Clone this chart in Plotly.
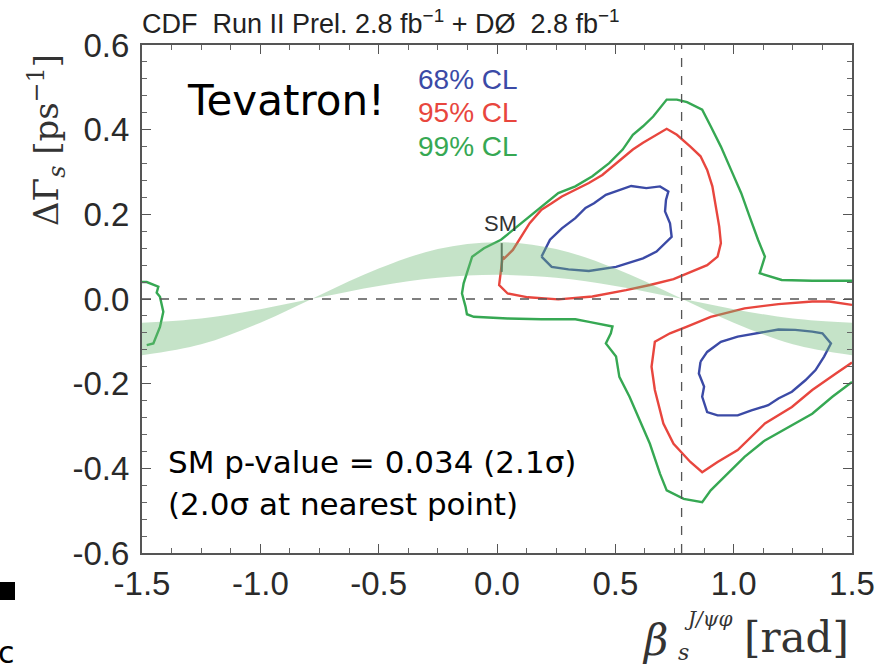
import plotly.graph_objects as go

# ---------------- data ----------------
band_x = [-1.5, -1.25, -1.0, -0.75, -0.5, -0.25, 0.0, 0.25, 0.5, 0.75, 1.0, 1.25, 1.5]
band_a = [-0.133, -0.107, -0.056, 0.009, 0.072, 0.118, 0.134, 0.118, 0.072, 0.009, -0.056, -0.107, -0.133]
band_b = [-0.056, -0.046, -0.024, 0.004, 0.031, 0.050, 0.057, 0.050, 0.031, 0.004, -0.024, -0.046, -0.056]

blue_up_x = [0.188, 0.231, 0.302, 0.388, 0.503, 0.617, 0.674, 0.738, 0.731, 0.710, 0.714, 0.724, 0.689, 0.631,
             0.567, 0.517, 0.460, 0.410, 0.374, 0.331, 0.274, 0.224, 0.188]
blue_up_y = [0.100, 0.076, 0.070, 0.066, 0.076, 0.096, 0.112, 0.147, 0.179, 0.207, 0.234, 0.254, 0.266, 0.262,
             0.267, 0.258, 0.246, 0.226, 0.215, 0.191, 0.167, 0.140, 0.100]

blue_lo_x = [0.860, 0.853, 0.875, 0.867, 0.888, 0.932, 1.017, 1.075, 1.146, 1.189, 1.246, 1.303, 1.346, 1.382,
             1.411, 1.375, 1.332, 1.260, 1.189, 1.103, 1.017, 0.946, 0.888, 0.860]
blue_lo_y = [-0.148, -0.176, -0.207, -0.231, -0.267, -0.275, -0.275, -0.263, -0.251, -0.235, -0.219, -0.192,
             -0.168, -0.136, -0.105, -0.081, -0.077, -0.073, -0.072, -0.081, -0.089, -0.101, -0.125, -0.148]

red_up_x = [0.024, 0.009, 0.045, 0.131, 0.259, 0.403, 0.545, 0.646, 0.746, 0.803, 0.888, 0.932, 0.946, 0.939,
            0.924, 0.910, 0.888, 0.860, 0.817, 0.760, 0.717, 0.674, 0.617, 0.574, 0.531, 0.488, 0.445, 0.388,
            0.331, 0.274, 0.231, 0.188, 0.138, 0.102, 0.067, 0.031, 0.024]
red_up_y = [0.100, 0.033, 0.013, 0.004, -0.001, 0.006, 0.021, 0.033, 0.047, 0.061, 0.080, 0.100, 0.132, 0.171,
            0.218, 0.266, 0.305, 0.337, 0.360, 0.388, 0.402, 0.388, 0.369, 0.353, 0.333, 0.313, 0.293, 0.274,
            0.258, 0.242, 0.226, 0.211, 0.179, 0.147, 0.116, 0.096, 0.100]

red_lo_x = [1.5, 1.404, 1.332, 1.189, 1.046, 0.903, 0.803, 0.731, 0.667, 0.653, 0.667, 0.703, 0.746, 0.817,
            0.867, 0.932, 1.017, 1.132, 1.246, 1.332, 1.432, 1.5]
red_lo_y = [-0.014, -0.006, -0.006, -0.012, -0.022, -0.042, -0.065, -0.081, -0.101, -0.160, -0.215, -0.294,
            -0.342, -0.385, -0.409, -0.385, -0.357, -0.294, -0.255, -0.215, -0.176, -0.150]

green_x = [1.5, 1.332, 1.203, 1.110, 1.132, 1.103, 1.067, 1.032, 0.989, 0.946, 0.903, 0.867, 0.803, 0.760,
           0.717, 0.660, 0.617, 0.574, 0.531, 0.474, 0.403, 0.331, 0.259, 0.188, 0.102, 0.017, -0.055, -0.105,
           -0.141, -0.148, -0.133, -0.127, -0.098, 0.045, 0.188, 0.331, 0.389, 0.488, 0.481, 0.460, 0.503,
           0.517, 0.560, 0.603, 0.646, 0.689, 0.717, 0.789, 0.867, 0.903, 0.960, 1.046, 1.132, 1.232, 1.332,
           1.417, 1.5]
green_y = [0.043, 0.043, 0.045, 0.061, 0.100, 0.140, 0.195, 0.250, 0.305, 0.360, 0.408, 0.447, 0.465, 0.471,
           0.471, 0.431, 0.408, 0.388, 0.353, 0.321, 0.290, 0.266, 0.250, 0.218, 0.179, 0.140, 0.120, 0.100,
           0.037, 0.013, -0.018, -0.036, -0.042, -0.046, -0.048, -0.048, -0.054, -0.065, -0.081, -0.105,
           -0.136, -0.184, -0.231, -0.286, -0.342, -0.413, -0.452, -0.472, -0.480, -0.452, -0.421, -0.373,
           -0.334, -0.302, -0.271, -0.231, -0.196]

green_edge_x = [-1.5, -1.480, -1.431, -1.438, -1.424, -1.410, -1.424, -1.452, -1.480]
green_edge_y = [0.040, 0.040, 0.029, 0.015, 0.005, -0.030, -0.066, -0.105, -0.109]

sm_x = [0.02, 0.02]
sm_y = [0.064, 0.132]

phi_line_x = 0.78
x_ticks = [-1.5, -1.0, -0.5, 0.0, 0.5, 1.0, 1.5]
y_ticks = [-0.6, -0.4, -0.2, 0.0, 0.2, 0.4, 0.6]
legend_labels = ["68% CL", "95% CL", "99% CL"]

# ---------------- styling ----------------
BLUE = "#3b4aa6"
RED = "#e8463e"
GREEN = "#36a853"
W, H = 876, 664
L, R, T, B = 142, 852, 45, 553


def px(x):
    return (x - L) / (R - L)


def py(y):
    return (B - y) / (B - T)


fig = go.Figure()


def line(xs, ys, color, width=2.4):
    fig.add_trace(go.Scatter(x=xs, y=ys, mode="lines", line=dict(color=color, width=width),
                             hoverinfo="skip", showlegend=False))


line(green_x, green_y, GREEN)
line(green_edge_x, green_edge_y, GREEN)
line(red_up_x, red_up_y, RED)
line(red_lo_x, red_lo_y, RED)
line(blue_up_x, blue_up_y, BLUE)
line(blue_lo_x, blue_lo_y, BLUE)
line(sm_x, sm_y, "#555555", 2)

# SM band (drawn on top, semi-transparent)
fig.add_trace(go.Scatter(x=band_x, y=band_a, mode="lines", line=dict(width=0, shape="spline"),
                         hoverinfo="skip", showlegend=False))
fig.add_trace(go.Scatter(x=band_x, y=band_b, mode="lines", line=dict(width=0, shape="spline"),
                         fill="tonexty", fillcolor="rgba(110,185,118,0.40)",
                         hoverinfo="skip", showlegend=False))

# dashed reference lines
fig.add_shape(type="line", x0=-1.5, x1=1.5, y0=0, y1=0, xref="x", yref="y",
              line=dict(color="#555555", width=1.3, dash="dash"))
fig.add_shape(type="line", x0=phi_line_x, x1=phi_line_x, y0=-0.6, y1=0.6, xref="x", yref="y",
              line=dict(color="#555555", width=1.3, dash="dash"))

TICKFONT = dict(family="Liberation Sans, Arial, sans-serif", size=33, color="#2a2a2a")
fig.update_xaxes(range=[-1.5, 1.5], tickvals=x_ticks, ticktext=[f"{v:.1f}" for v in x_ticks],
                 ticks="inside", ticklen=9, tickwidth=1.2, tickcolor="#555",
                 minor=dict(dtick=0.125, tick0=-1.5, ticks="inside", ticklen=5, tickcolor="#666", tickwidth=1),
                 showline=True, linecolor="#555", linewidth=2, mirror="allticks", automargin=False,
                 showgrid=False, zeroline=False, tickfont=TICKFONT, ticklabelstandoff=0)
fig.update_yaxes(range=[-0.6, 0.6], tickvals=y_ticks, ticktext=[f"{v:.1f}" for v in y_ticks],
                 ticks="inside", ticklen=9, tickwidth=1.2, tickcolor="#555",
                 minor=dict(dtick=0.04, tick0=-0.6, ticks="inside", ticklen=5, tickcolor="#666", tickwidth=1),
                 showline=True, linecolor="#555", linewidth=2, mirror="allticks", automargin=False,
                 showgrid=False, zeroline=False, tickfont=TICKFONT, ticklabelstandoff=4)

ann = []


def text(x, y, s, size, color="#000", family="Liberation Sans, Arial, sans-serif", xanchor="center",
         yanchor="middle", angle=0):
    ann.append(dict(x=px(x), y=py(y), xref="paper", yref="paper", text=s, showarrow=False,
                    xanchor=xanchor, yanchor=yanchor, textangle=angle,
                    font=dict(size=size, color=color, family=family)))


text(140, 22, "CDF\u00a0 Run II Prel. 2.8 fb<sup>−1</sup> + DØ\u00a0 2.8 fb<sup>−1</sup>", 27,
     color="#222", family="Liberation Sans, Arial", xanchor="left")
sans = "DejaVu Sans, sans-serif"
text(286, 100, "Tevatron!", 42, family=sans)
for lab, col, yy in zip(legend_labels, [BLUE, RED, GREEN], [79, 112, 146]):
    text(416, yy, lab, 28, color=col, xanchor="left")
text(500, 223, "SM", 22, color="#333")
text(166, 462, "SM p-value = 0.034 (2.1σ)", 31, family=sans, xanchor="left")
text(166, 504, "(2.0σ at nearest point)", 31, family=sans, xanchor="left")

serif = "DejaVu Serif, Liberation Serif, serif"
text(46, 140, "ΔΓ<sub><i>s</i></sub> [ps<sup>−1</sup>]", 34, color="#333", family=serif, angle=-90)
text(655, 640, "<i>β</i>", 42, color="#333", family=serif)
text(683, 652, "<i>s</i>", 22, color="#333", family=serif)
text(708, 619, "<i>J/ψφ</i>", 20, color="#333", family=serif)
text(796, 637, "[rad]", 42, color="#333", family=serif)

# slide artifacts at bottom-left
text(17, 652, "nc", 30, color="#000", family="DejaVu Sans", xanchor="right")
fig.add_shape(type="rect", xref="paper", yref="paper", x0=px(0), x1=px(15), y0=py(600), y1=py(582),
              fillcolor="#000", line=dict(width=0))

fig.update_layout(width=W, height=H, margin=dict(l=L, r=W - R, t=T, b=H - B, autoexpand=False),
                  paper_bgcolor="white", plot_bgcolor="white", annotations=ann, showlegend=False)

fig.write_html("out.html")
